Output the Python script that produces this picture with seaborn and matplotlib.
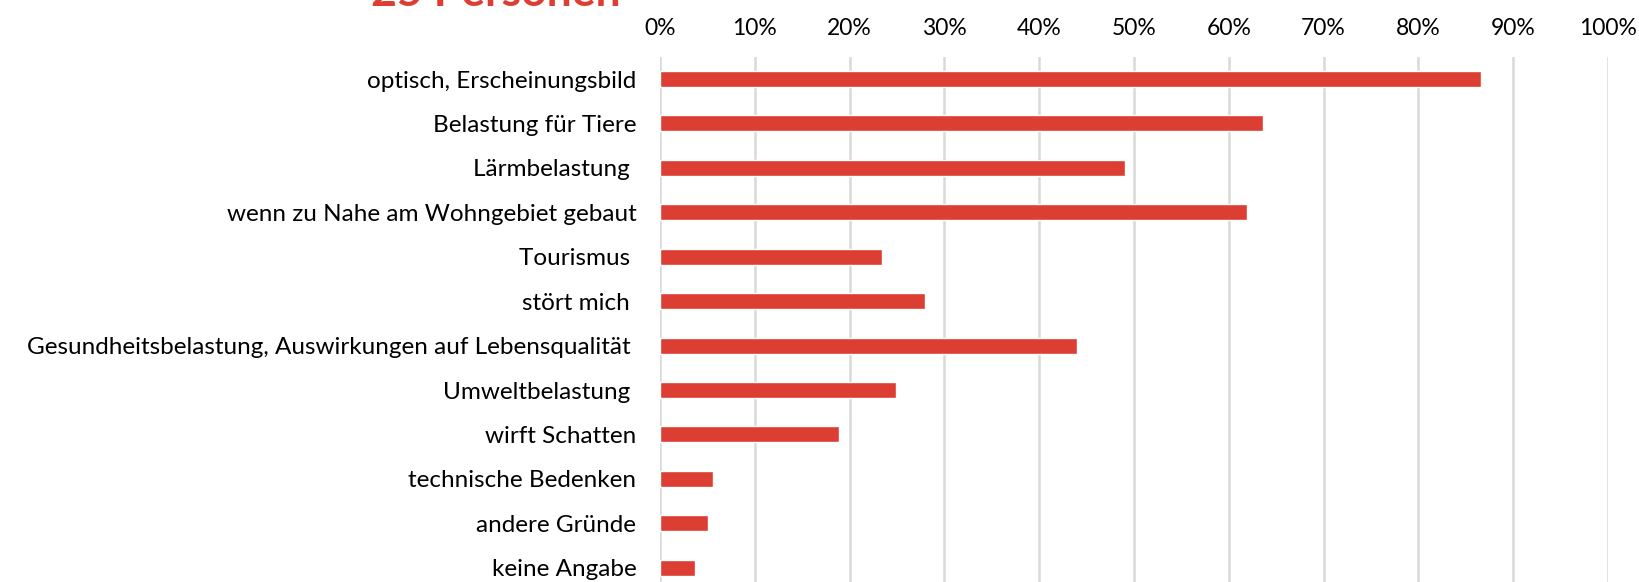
import matplotlib
matplotlib.use("Agg")
import matplotlib.pyplot as plt
from matplotlib.ticker import PercentFormatter
import pandas as pd
import seaborn as sns

# data
gruende = [
    "optisch, Erscheinungsbild",
    "Belastung für Tiere",
    "Lärmbelastung ",
    "wenn zu Nahe am Wohngebiet gebaut",
    "Tourismus ",
    "stört mich ",
    "Gesundheitsbelastung, Auswirkungen auf Lebensqualität ",
    "Umweltbelastung ",
    "wirft Schatten",
    "technische Bedenken",
    "andere Gründe",
    "keine Angabe",
]
anteil = [86.6, 63.6, 49.0, 61.9, 23.4, 27.9, 44.0, 24.9, 18.9, 5.6, 5.1, 3.7]
titel = "25 Personen"
rot = "#DD3E34"

sns.set_theme(style="white")
plt.rcParams["font.family"] = ["Lato", "DejaVu Sans"]

df = pd.DataFrame({"grund": gruende, "anteil": anteil})

fig = plt.figure(figsize=(16.39, 5.82), dpi=100)
ax = fig.add_axes([0.4027, -0.0137, 0.5784, 0.9161])

sns.barplot(data=df, x="anteil", y="grund", color=rot, saturation=1,
            width=0.36, orient="h", ax=ax)

ax.set_xlim(0, 100)
ax.set_ylim(11.5, -0.5)
ax.set_xticks(range(0, 101, 10))
ax.xaxis.set_major_formatter(PercentFormatter(decimals=0))
ax.xaxis.tick_top()
ax.tick_params(axis="x", length=0, pad=13, labelsize=16.5, colors="black")
ax.tick_params(axis="y", length=0, pad=17, labelsize=17.5, colors="black")
ax.set_xlabel("")
ax.set_ylabel("")
ax.grid(axis="x", color="#D9D9D9", linewidth=1.8)
ax.set_axisbelow(True)
for s in ax.spines.values():
    s.set_visible(False)

# title sits mostly above the canvas, as in the reference
fig.text(496 / 1639, 1 - 6 / 582, titel, color=rot, fontsize=32,
         fontweight="bold", ha="center", va="baseline")

fig.savefig("out.png", dpi=100)
